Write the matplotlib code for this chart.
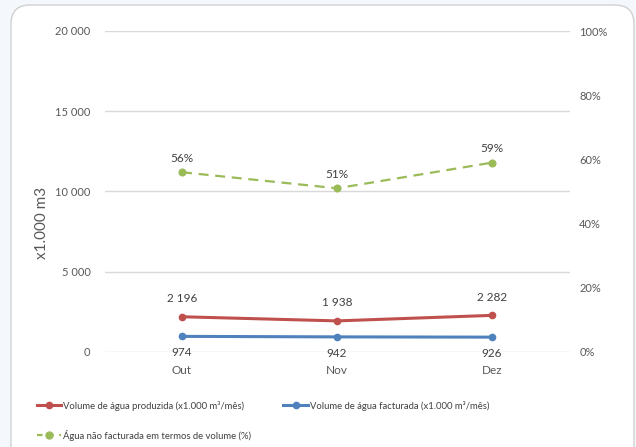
import matplotlib
matplotlib.use("Agg")
import matplotlib.pyplot as plt
from matplotlib.patches import FancyBboxPatch
from matplotlib.lines import Line2D
from matplotlib.ticker import FuncFormatter

plt.rcParams['font.family'] = ['Lato', 'DejaVu Sans']

months = ["Out", "Nov", "Dez"]
produzida = [2196, 1938, 2282]
facturada = [974, 942, 926]
nao_facturada_pct = [56, 51, 59]

RED = "#C0504D"
BLUE = "#4F81BD"
GREEN = "#9BBB59"
TXT = "#595959"
LBL = "#404040"

fig = plt.figure(figsize=(6.36, 4.47), dpi=100)
fig.patch.set_facecolor("#F4F8FC")

# rounded card behind the chart
W, H = 636, 447
card = FancyBboxPatch((11 / W, -20 / H), (634 - 11) / W, (447 - 5 + 20) / H,
                      boxstyle="round,pad=0,rounding_size=0.03",
                      transform=fig.transFigure, facecolor="white",
                      edgecolor="#D0D0D0", linewidth=1.0, zorder=-5,
                      mutation_aspect=W / H)
fig.patches.append(card)

ax = fig.add_axes([104.5 / W, (H - 352) / H, 465 / W, 321 / H])
ax.set_facecolor("none")
ax2 = ax.twinx()

x = list(range(len(months)))
ax.set_xlim(-0.5, len(months) - 0.5)
ax.set_ylim(0, 20000)
ax2.set_ylim(0, 100)

ax.set_yticks([0, 5000, 10000, 15000, 20000])
ax.yaxis.set_major_formatter(FuncFormatter(lambda v, p: f"{int(v):,}".replace(",", " ")))
ax2.set_yticks([0, 20, 40, 60, 80, 100])
ax2.yaxis.set_major_formatter(FuncFormatter(lambda v, p: f"{int(v)}%"))

ax.grid(axis="y", color="#D9D9D9", linewidth=1.0)
ax.set_axisbelow(True)
for a in (ax, ax2):
    for s in a.spines.values():
        s.set_visible(False)
    a.tick_params(length=0, labelsize=8, labelcolor=TXT)
ax.tick_params(axis="y", pad=10)
ax2.tick_params(axis="y", pad=7)
ax.set_xticks(x)
ax.set_xticklabels(months)
ax.tick_params(axis="x", pad=9, labelsize=8.5, labelcolor=TXT)

# axis title placed on its own, a little below the axis centre
fig.text(42 / W, 1 - 223 / H, "x1.000 m3", rotation=90, fontsize=11,
         color=TXT, ha="center", va="center")

ax.plot(x, produzida, color=RED, lw=2.2, marker="o", ms=4.5, zorder=3)
ax.plot(x, facturada, color=BLUE, lw=2.2, marker="o", ms=4.5, zorder=3)
ax2.plot(x, nao_facturada_pct, color=GREEN, lw=1.6, ls=(0, (4.5, 3)),
         marker="o", ms=4.8, zorder=3)

fmt = lambda v: f"{v:,}".replace(",", " ")
for xi, v in zip(x, produzida):
    ax.annotate(fmt(v), (xi, v), xytext=(0, 9), textcoords="offset points",
                ha="center", va="bottom", fontsize=8.5, color=LBL)
for xi, v in zip(x, facturada):
    ax.annotate(fmt(v), (xi, v), xytext=(0, -8), textcoords="offset points",
                ha="center", va="top", fontsize=8.5, color=LBL)
for xi, v in zip(x, nao_facturada_pct):
    ax2.annotate(f"{v}%", (xi, v), xytext=(0, 6), textcoords="offset points",
                 ha="center", va="bottom", fontsize=8.5, color=LBL)

handles = [
    Line2D([], [], color=RED, lw=2.2, marker="o", ms=4.5),
    Line2D([], [], color=GREEN, lw=1.6, ls=(0, (2.5, 2.5)), marker="o", ms=5),
    Line2D([], [], color=BLUE, lw=2.2, marker="o", ms=4.5),
]
labels = [
    "Volume de água produzida (x1.000 m³/mês)",
    "Água não facturada em termos de volume (%)",
    "Volume de água facturada (x1.000 m³/mês)",
]
fig.legend(handles, labels, ncol=2, loc="upper left",
           bbox_to_anchor=(33 / W, (H - 397) / H), frameon=False,
           fontsize=6.8, labelcolor=LBL, handlelength=2.6, handletextpad=0.2,
           columnspacing=3.4, labelspacing=2.0, borderaxespad=0)

fig.savefig("out.png", dpi=100, facecolor=fig.get_facecolor())
